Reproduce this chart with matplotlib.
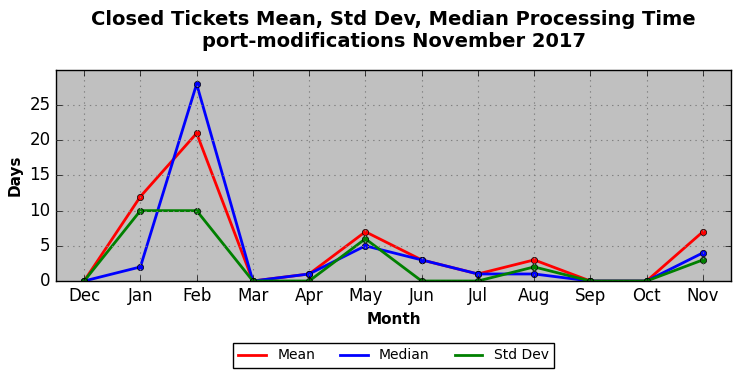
import matplotlib
matplotlib.use("Agg")
import matplotlib.pyplot as plt
import numpy as np

plt.style.use("classic")

months = ["Dec", "Jan", "Feb", "Mar", "Apr", "May", "Jun", "Jul", "Aug", "Sep", "Oct", "Nov"]
mean_days = [0, 12, 21, 0, 1, 7, 3, 1, 3, 0, 0, 7]
median_days = [0, 2, 28, 0, 1, 5, 3, 1, 1, 0, 0, 4]
std_days = [0, 10, 10, 0, 0, 6, 0, 0, 2, 0, 0, 3]

series = [("Mean", mean_days, "red"), ("Median", median_days, "blue"), ("Std Dev", std_days, "green")]

fig = plt.figure(figsize=(7.41, 3.78), dpi=100, facecolor="white")
ax = fig.add_axes([0.0756, 0.2566, 0.9109, 0.5584])
ax.set_facecolor("#c0c0c0")

x = np.arange(len(months))
for name, vals, color in series:
    ax.plot(x, vals, color=color, lw=2, label=name)
    ax.plot(x, vals, ls="none", marker="o", ms=4.5, mfc=color, mec="black", mew=0.5)

ax.set_xlim(-0.5, len(months) - 0.5)
ax.set_ylim(0, 30)
ax.set_xticks(x)
ax.set_xticklabels(months)
ax.set_yticks([0, 5, 10, 15, 20, 25])
ax.tick_params(labelsize=12)
ax.grid(True, color="gray", linestyle=":", linewidth=0.8)

ax.set_xlabel("Month", fontsize=11, fontweight="bold")
ax.set_ylabel("Days", fontsize=11, fontweight="bold")
ax.set_title("Closed Tickets Mean, Std Dev, Median Processing Time\nport-modifications November 2017",
             fontsize=14, fontweight="bold", y=1.075)

leg = ax.legend(loc="upper center", bbox_to_anchor=(0.5, -0.26), ncol=3, fontsize=10,
                frameon=True, fancybox=False, numpoints=1, handlelength=2.0, columnspacing=1.8)
leg.get_frame().set_edgecolor("black")

fig.savefig("out.png", dpi=100, facecolor="white")
